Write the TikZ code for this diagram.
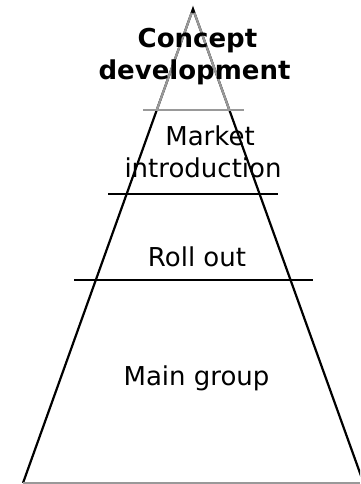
\documentclass[tikz,border=0pt]{standalone}
\usepackage{fontspec}
\setmainfont{DejaVu Sans}
\usepackage{xcolor}
\usetikzlibrary{calc}

\tikzset{
    stage/.style={anchor=base, inner sep=0pt, font=\fontsize{26}{30}\selectfont},
    solidline/.style={line width=2.2pt, draw=black},
    greyline/.style={line width=2.2pt, draw=black!40}
}

\begin{document}
\begin{tikzpicture}[x=1pt, y=-1pt]

    % 1. Frame
    \useasboundingbox (0,0) rectangle (360,484);
    \clip (0,0) rectangle (360,484);

    % 2. Pyramid sides (upper part greyed out)
    \coordinate (apex) at (193,9);
    \coordinate (baseL) at (23,483);
    \coordinate (baseR) at (363.6,483);
    \draw[solidline] (baseL) -- (apex) -- (baseR);
    \draw[greyline] ($(apex)!0.008!(baseL)$) -- ($(apex)!0.213!(baseL)$);
    \draw[greyline] ($(apex)!0.008!(baseR)$) -- ($(apex)!0.213!(baseR)$);

    % 3. Layer boundaries
    \draw[greyline] (143,110) -- (244,110);
    \draw[solidline] (108,194) -- (278,194);
    \draw[solidline] (74,280) -- (313,280);
    \draw[greyline] (baseL) -- (360,483);

    % 4. Layer names
    \node[stage, font=\fontsize{26}{30}\bfseries] (concept) at (197.5,48) {Concept};
    \node[stage, font=\fontsize{26}{30}\bfseries] (develop) at (194.5,80) {development};
    \node[stage] (market) at (210,145) {Market};
    \node[stage] (intro) at (203,177) {introduction};
    \node[stage] (rollout) at (197,266) {Roll out};
    \node[stage] (main) at (196.5,385) {Main group};

\end{tikzpicture}
\end{document}
